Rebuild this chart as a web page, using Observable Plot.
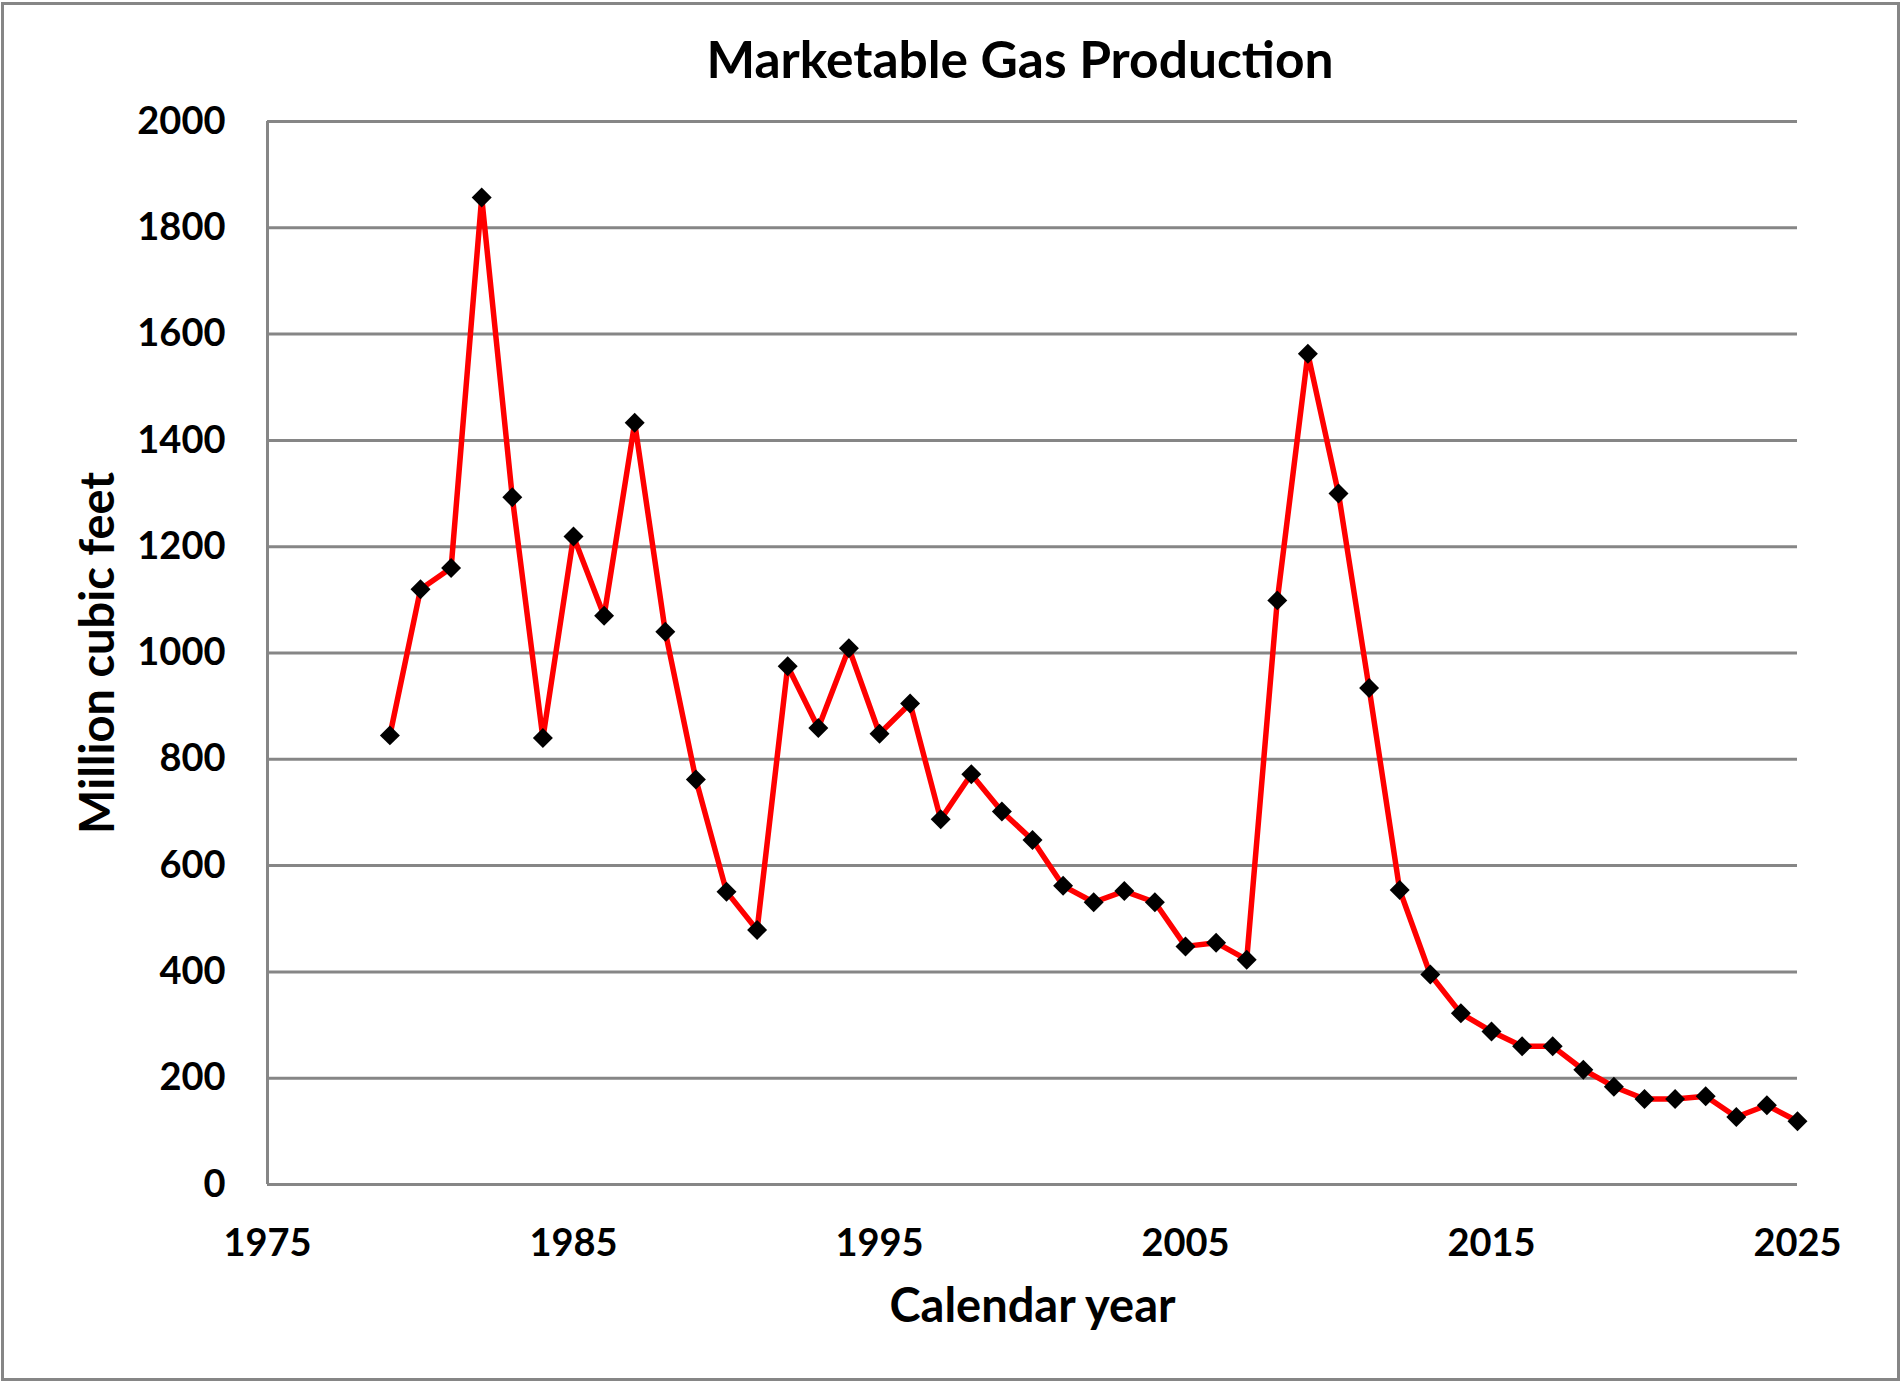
<!DOCTYPE html>
<html>
<head>
<meta charset="utf-8">
<script src="https://cdn.jsdelivr.net/npm/d3@7"></script>
<script src="https://cdn.jsdelivr.net/npm/@observablehq/plot@0.6"></script>
<style>
  html, body { margin: 0; padding: 0; background: #fff; }
  #chart { position: relative; width: 1903px; height: 1386px; background: #fff; font-family: Lato, "Open Sans", sans-serif; }
  #frame { position: absolute; left: 1px; top: 2px; width: 1899px; height: 1379px; border: 3px solid #868686; box-sizing: border-box; pointer-events: none; }
  #title { position: absolute; left: 1020px; top: 33px; transform: translateX(-50%); font-size: 51.5px; line-height: 51.5px; font-weight: 700; color: #000; white-space: nowrap; }
  #plot { position: absolute; left: 0; top: 90px; }
</style>
</head>
<body>
<div id="chart">
  <div id="title">Marketable Gas Production</div>
  <div id="plot"></div>
  <div id="frame"></div>
</div>
<script>
// Annual marketable gas production, million cubic feet
const years = [
  1979, 1980, 1981, 1982, 1983, 1984, 1985, 1986, 1987, 1988,
  1989, 1990, 1991, 1992, 1993, 1994, 1995, 1996, 1997, 1998,
  1999, 2000, 2001, 2002, 2003, 2004, 2005, 2006, 2007, 2008,
  2009, 2010, 2011, 2012, 2013, 2014, 2015, 2016, 2017, 2018,
  2019, 2020, 2021, 2022, 2023, 2024, 2025
];
const production = [
   845, 1120, 1160, 1857, 1293,  840, 1219, 1070, 1433, 1040,
   762,  551,  479,  975,  859, 1009,  848,  905,  687,  772,
   702,  648,  562,  531,  552,  531,  448,  455,  423, 1099,
  1563, 1300,  934,  554,  395,  322,  288,  260,  260,  216,
   184,  161,  161,  166,  127,  149,  119
];

// Axis ticks
const xTicks = [1975, 1985, 1995, 2005, 2015, 2025];
const yTicks = [0, 200, 400, 600, 800, 1000, 1200, 1400, 1600, 1800, 2000];

const rows = years.map((year, i) => ({year, value: production[i]}));

const gridColor = "#868686";

const chart = Plot.plot({
  width: 1903,
  height: 1296,
  marginTop: 31,
  marginBottom: 202,
  marginLeft: 267,
  marginRight: 106,
  style: {fontFamily: "Lato, 'Open Sans', sans-serif", color: "#000", background: "transparent"},
  x: {domain: [1975, 2025]},
  y: {domain: [0, 2000]},
  marks: [
    Plot.gridY(yTicks, {stroke: gridColor, strokeOpacity: 1, strokeWidth: 3}),
    Plot.ruleX([1975], {stroke: gridColor, strokeWidth: 3}),
    Plot.axisY(yTicks, {
      tickSize: 0, tickPadding: 42, fontSize: 38, fontWeight: "bold",
      tickFormat: (d) => String(d), label: null
    }),
    Plot.axisX(xTicks, {
      tickSize: 0, tickPadding: 45, fontSize: 38, fontWeight: "bold",
      tickFormat: (d) => String(d), label: null
    }),
    Plot.text(["Million cubic feet"], {
      frameAnchor: "left", textAnchor: "middle", rotate: -90, dx: -169,
      fontSize: 47, fontWeight: "bold", fill: "#000"
    }),
    Plot.text(["Calendar year"], {
      frameAnchor: "bottom", textAnchor: "middle", dy: 137,
      fontSize: 47, fontWeight: "bold", fill: "#000"
    }),
    Plot.line(rows, {x: "year", y: "value", stroke: "#ff0000", strokeWidth: 5.5}),
    Plot.dot(rows, {x: "year", y: "value", symbol: "diamond2", r: 9, fill: "#000", stroke: "none"})
  ]
});

document.getElementById("plot").append(chart);
</script>
</body>
</html>
